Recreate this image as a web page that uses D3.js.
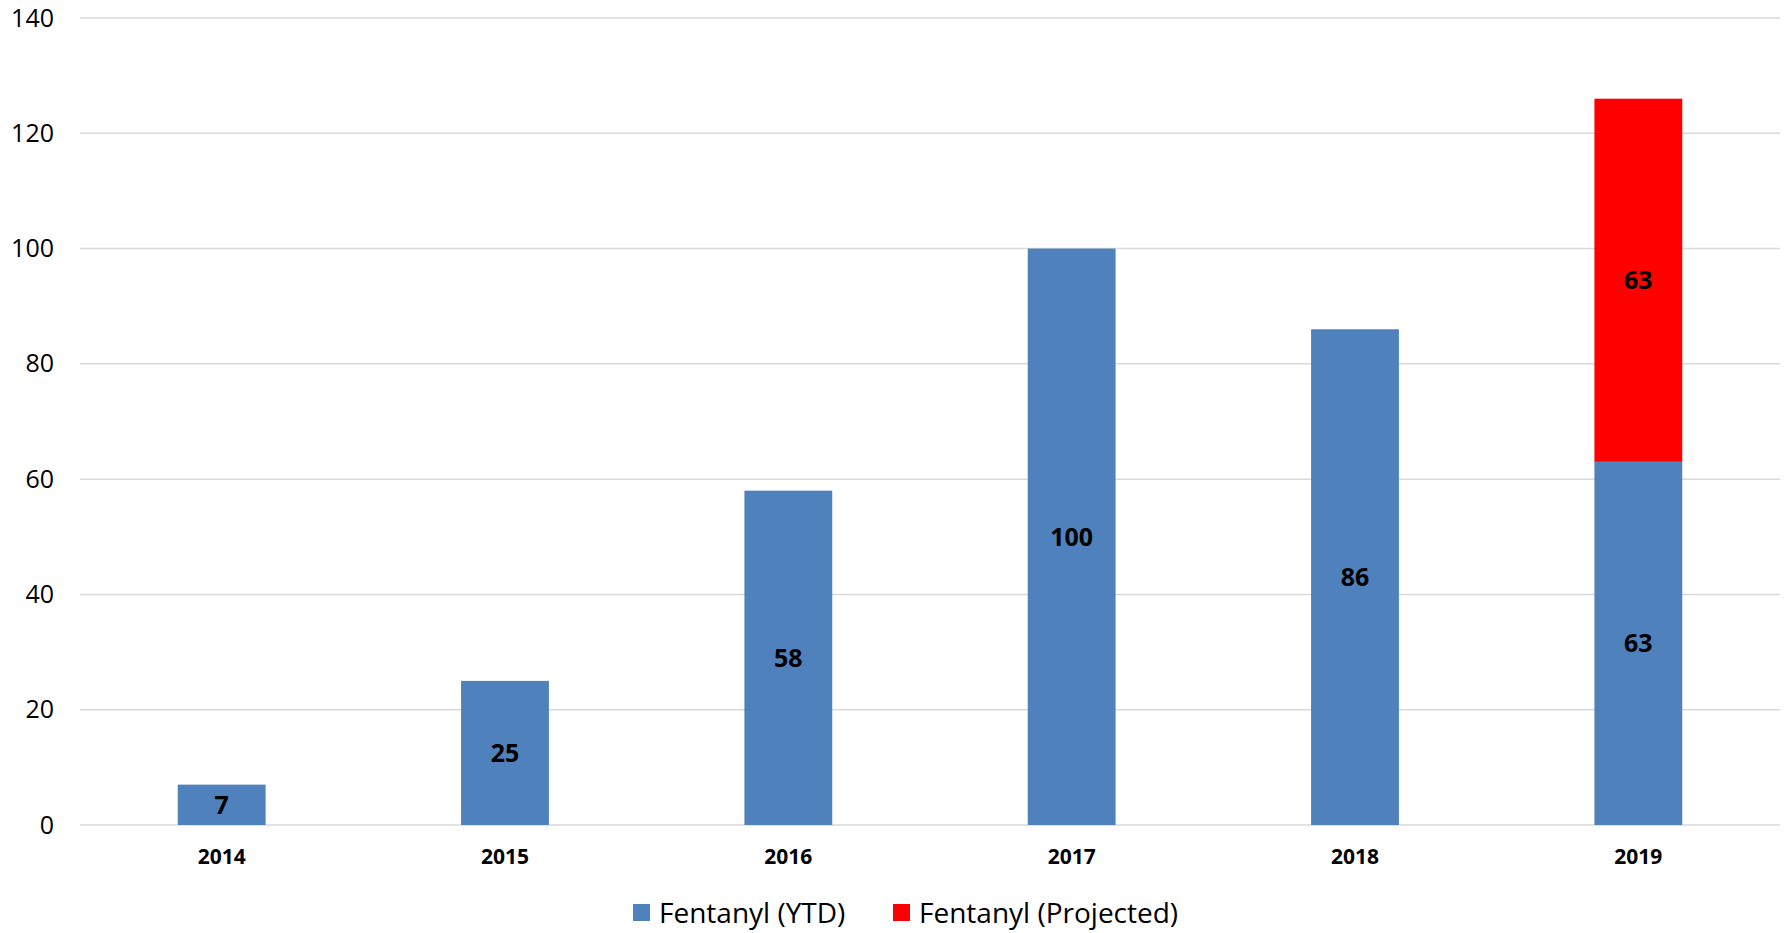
<!DOCTYPE html>
<html>
<head>
<meta charset="utf-8">
<script src="https://cdn.jsdelivr.net/npm/d3@7"></script>
<style>
  body { margin: 0; background: #fff; }
  svg { display: block; font-family: "Open Sans", sans-serif; }
</style>
</head>
<body>
<svg id="mainContainer"></svg>
<script>
var years = ['2014', '2015', '2016', '2017', '2018', '2019'];
var ytd = [7, 25, 58, 100, 86, 63];
var projected = [0, 0, 0, 0, 0, 63];
var yTicks = [0, 20, 40, 60, 80, 100, 120, 140];
var seriesNames = ['Fentanyl (YTD)', 'Fentanyl (Projected)'];
var seriesColors = ['#4f81bd', '#ff0000'];

var svgWidth = 1788;
var svgHeight = 933;

var plot = { left: 80, right: 1780, top: 18, bottom: 825 };

var svg = d3.select('#mainContainer')
  .attr('width', svgWidth)
  .attr('height', svgHeight);

var x = d3.scaleBand()
  .domain(years)
  .range([plot.left, plot.right])
  .paddingInner(0.69)
  .paddingOuter(0.345);

var y = d3.scaleLinear()
  .domain([0, 140])
  .range([plot.bottom, plot.top]);

// gridlines
svg.append('g')
  .selectAll('line')
  .data(yTicks)
  .enter()
  .append('line')
  .attr('x1', plot.left)
  .attr('x2', plot.right)
  .attr('y1', function(d){ return y(d); })
  .attr('y2', function(d){ return y(d); })
  .attr('stroke', '#d9d9d9')
  .attr('stroke-width', 1.5);

// y axis labels
var yAxis = d3.axisLeft(y).tickValues(yTicks).tickSize(0).tickPadding(0);
svg.append('g')
  .attr('transform', 'translate(' + 54 + ',0)')
  .call(yAxis)
  .call(function(g){ g.select('.domain').remove(); })
  .selectAll('text')
  .attr('font-family', '"Open Sans", sans-serif')
  .attr('font-size', 25)
  .attr('fill', '#000');

// stacked data
var rows = years.map(function(yr, i){ return { year: yr, ytd: ytd[i], projected: projected[i] }; });
var stack = d3.stack().keys(['ytd', 'projected']);
var layers = stack(rows);

var barGroups = svg.append('g')
  .selectAll('g')
  .data(layers)
  .enter()
  .append('g')
  .attr('fill', function(d, i){ return seriesColors[i]; });

barGroups.selectAll('rect')
  .data(function(d){ return d.filter(function(p){ return p[1] - p[0] > 0; }); })
  .enter()
  .append('rect')
  .attr('x', function(d){ return x(d.data.year); })
  .attr('width', x.bandwidth())
  .attr('y', function(d){ return y(d[1]); })
  .attr('height', function(d){ return y(d[0]) - y(d[1]); });

// value labels
barGroups.selectAll('text')
  .data(function(d){ return d.filter(function(p){ return p[1] - p[0] > 0; }); })
  .enter()
  .append('text')
  .attr('x', function(d){ return x(d.data.year) + x.bandwidth() / 2; })
  .attr('y', function(d){ return y((d[0] + d[1]) / 2); })
  .attr('dy', '0.35em')
  .attr('text-anchor', 'middle')
  .attr('font-size', 25)
  .attr('font-weight', 'bold')
  .attr('fill', '#000')
  .text(function(d){ return d[1] - d[0]; });

// x axis labels
var xAxis = d3.axisBottom(x).tickSize(0).tickPadding(0);
svg.append('g')
  .attr('transform', 'translate(0,' + 857 + ')')
  .call(xAxis)
  .call(function(g){ g.select('.domain').remove(); })
  .selectAll('text')
  .attr('dy', '0.35em')
  .attr('font-family', '"Open Sans", sans-serif')
  .attr('font-size', 21)
  .attr('font-weight', 'bold')
  .attr('fill', '#000');

// legend
var legendX = [633, 893];
var legend = svg.append('g')
  .selectAll('g')
  .data(seriesNames)
  .enter()
  .append('g')
  .attr('transform', function(d, i){ return 'translate(' + legendX[i] + ',' + 913 + ')'; });

legend.append('rect')
  .attr('x', 0)
  .attr('y', -9)
  .attr('width', 17)
  .attr('height', 17)
  .attr('fill', function(d, i){ return seriesColors[i]; });

legend.append('text')
  .attr('x', 26)
  .attr('y', 0)
  .attr('dy', '0.35em')
  .attr('font-size', 28)
  .attr('fill', '#000')
  .text(function(d){ return d; });
</script>
</body>
</html>
